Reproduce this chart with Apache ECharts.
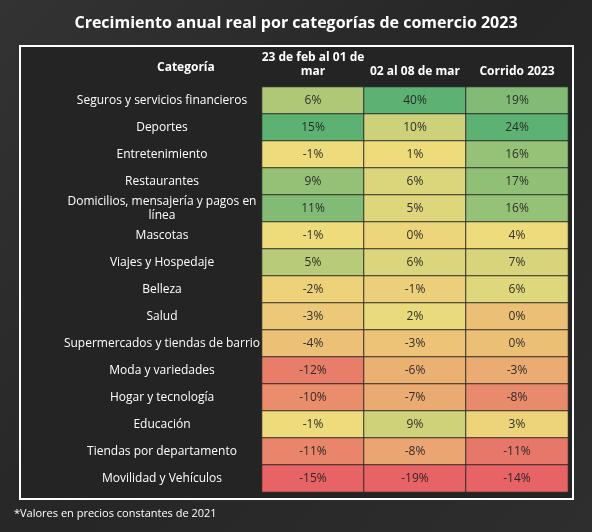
<!DOCTYPE html><html><head><meta charset="utf-8"><script src="https://cdn.jsdelivr.net/npm/echarts@6/dist/echarts.min.js"></script>
<style>html,body{margin:0;background:#2a2a2a}#c{width:592px;height:532px}</style></head><body><div id="c"></div><script>
const categories=["Seguros y servicios financieros","Deportes","Entretenimiento","Restaurantes","Domicilios, mensajería y pagos en\nlínea","Mascotas","Viajes y Hospedaje","Belleza","Salud","Supermercados y tiendas de barrio","Moda y variedades","Hogar y tecnología","Educación","Tiendas por departamento","Movilidad y Vehículos"];
const columns=["23 de feb al 01 de\nmar","02 al 08 de mar","Corrido 2023"];
const col1=[6,15,-1,9,11,-1,5,-2,-3,-4,-12,-10,-1,-11,-15];
const col2=[40,10,1,6,5,0,6,-1,2,-3,-6,-7,9,-8,-19];
const col3=[19,24,16,17,16,4,7,6,0,0,-3,-8,3,-11,-14];
const cols=[col1,col2,col3];
const R=[248,105,107],Y=[255,235,132],G=[99,190,123];
function mix(a,b,t){return 'rgb('+a.map((v,i)=>Math.round(v+(b[i]-v)*t)).join(',')+')';}
function colorFor(arr,v){const s=[...arr].sort((a,b)=>a-b);const mn=s[0],mx=s[s.length-1],md=s[Math.floor(s.length/2)];
 if(v<=md)return mix(R,Y,md===mn?1:(v-mn)/(md-mn));return mix(Y,G,(v-md)/(mx-md));}
const data=[];
cols.forEach((arr,x)=>arr.forEach((v,y)=>data.push({value:[x,y,v],itemStyle:{color:colorFor(arr,v),opacity:0.92}})));
const ch=echarts.init(document.getElementById('c'));
const gridTop=87,rowH=27;
ch.setOption({backgroundColor:new echarts.graphic.LinearGradient(0,0,1,1,[{offset:0,color:'#333'},{offset:0.5,color:'#262626'},{offset:1,color:'#2e2e2e'}]),
title:{text:'Crecimiento anual real por categorías de comercio 2023',left:'center',top:10,textStyle:{color:'#fff',fontSize:16,fontWeight:'bold',fontFamily:'Open Sans'}},
graphic:[
{type:'rect',shape:{x:20,y:46,width:553,height:453},style:{fill:'#242424',stroke:'#fff',lineWidth:2},z:-1},
{type:'text',left:157,top:62,style:{text:'Categoría',fill:'#fff',font:'bold 12px "Open Sans"',textAlign:'center'}},
{type:'text',left:14,top:508,style:{text:'*Valores en precios constantes de 2021',fill:'#fff',font:'11px "Open Sans"'}}
],
grid:{left:262,right:24,top:gridTop,height:rowH*15},
xAxis:{type:'category',data:columns,position:'top',axisLine:{show:false},axisTick:{show:false},splitLine:{show:false},
 axisLabel:{color:'#fff',fontWeight:'bold',fontSize:12,fontFamily:'Open Sans',lineHeight:14,margin:8,interval:0,hideOverlap:false}},
yAxis:{type:'category',data:categories,inverse:true,axisLine:{show:false},axisTick:{show:false},
 axisLabel:{color:'#fff',fontSize:12,fontFamily:'Open Sans',margin:-20,align:'center',lineHeight:14,interval:0},offset:120},
series:[{type:'heatmap',data:data,itemStyle:{borderColor:'#242424',borderWidth:1},label:{show:true,formatter:p=>p.value[2]+'%',color:'#222',fontSize:12,fontFamily:'Open Sans'}}]
});
</script></body></html>
